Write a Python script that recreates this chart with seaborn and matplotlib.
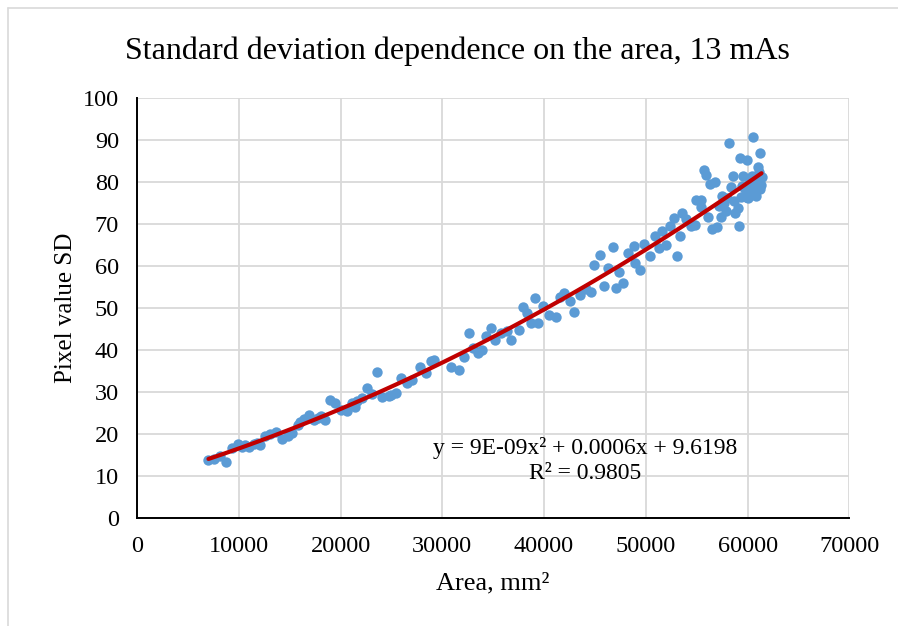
import seaborn as sns
import matplotlib.pyplot as plt
import pandas as pd
from matplotlib.lines import Line2D

# area in mm2
area = [7020, 7590, 8180, 8770, 9330, 9880, 10310, 10600, 10960, 11460, 11800, 12120,
        12610, 13100, 13690, 14250, 14810, 15240, 15790, 16000, 16380, 16870, 17370,
        17800, 18030, 18520, 19010, 19500, 20000, 20590, 21150, 21400, 21640, 22130,
        22630, 23120, 23540, 24100, 24750, 25000, 25410, 25910, 26500, 27060, 27810,
        28370, 28860,
        29190, 30830, 31650, 32140, 32630, 32970, 33460, 33950, 34280, 34770, 35170,
        35760, 36350, 36740, 37560, 37890, 38320, 38710, 39110, 39430, 39860, 40510,
        41170, 41600, 41990, 42580, 42980, 43570, 44130, 44620, 44950, 45510, 45870,
        46270, 46760, 47080, 47410, 47740, 48240, 48830, 48890, 49380, 49810, 50460,
        50860, 51250,
        51580, 52010, 52330, 52770, 53090, 53320, 53560, 53980, 54400, 54800, 54960,
        55390, 55460, 55720, 55950, 56120, 56270, 56510, 56830, 57030, 57160, 57430,
        57500, 57690, 57920, 58000, 58150, 58340, 58580, 58700, 58810, 59070, 59130,
        59230, 59400, 59500, 59560, 59790, 59800, 59990, 60000, 60120, 60200, 60310,
        60400, 60500, 60550, 60650, 60700, 60780, 60870, 60900, 61000, 61040, 61100,
        61200, 61200, 61300, 61370]

sd = [13.9, 14.1, 14.9, 13.5, 16.7, 17.7, 17.1, 17.4, 17.0, 17.7, 17.9, 17.5,
      19.5, 20.1, 20.5, 18.9, 19.5, 20.3, 22.3, 22.9, 23.7, 24.5, 23.5,
      24.0, 24.3, 23.3, 28.2, 27.4, 25.8, 25.6, 27.5, 26.5, 28.0, 28.6,
      31.0, 29.6, 34.9, 29.0, 29.2, 29.4, 29.8, 33.5, 32.1, 32.9, 36.1,
      34.5, 37.5,
      37.7, 36.1, 35.3, 38.5, 44.2, 40.5, 39.3, 40.1, 43.4, 45.3, 42.5,
      44.2, 44.6, 42.5, 44.8, 50.2, 48.8, 46.4, 52.5, 46.5, 50.5, 48.4,
      48.0, 52.8, 53.7, 51.7, 49.2, 53.2, 54.5, 54.0, 60.3, 62.7, 55.2,
      59.7, 64.5, 54.8, 58.7, 56.0, 63.2, 64.8, 60.7, 59.2, 65.3, 62.4,
      67.1, 64.3,
      68.3, 65.1, 69.6, 71.5, 62.4, 67.1, 72.8, 71.2, 69.5, 69.9, 75.9,
      75.8, 74.0, 83.0, 81.7, 71.8, 79.6, 68.8, 80.1, 69.3, 74.3, 71.8,
      76.8, 75.0, 73.2, 76.2, 89.4, 78.9, 81.4, 75.5, 72.7, 73.8, 69.6,
      85.7, 76.6, 79.0, 81.4, 78.3, 76.5, 85.4, 76.2, 79.8, 78.0, 77.0,
      81.5, 80.0, 90.7, 78.9, 77.8, 80.5, 76.7, 79.0, 80.8, 83.6, 82.5,
      86.9, 78.5, 79.4, 81.2]

eq_text = "y = 9E-09x² + 0.0006x + 9.6198\nR² = 0.9805"

df = pd.DataFrame({"area": area, "sd": sd})

sns.set_theme(style="whitegrid")
plt.rcParams['font.family'] = ['Liberation Serif', 'DejaVu Serif']

fig = plt.figure(figsize=(8.98, 6.26), dpi=100)
ax = fig.add_axes([0.1526, 0.172, 0.7932, 0.671])

sns.regplot(data=df, x="area", y="sd", order=2, ci=None, ax=ax,
            scatter_kws=dict(color="#5B9BD5", s=56, alpha=1, linewidths=0, zorder=3),
            line_kws=dict(color="#C00000", lw=3.0, zorder=4))

ax.set_xlim(0, 70000)
ax.set_ylim(0, 100)
ax.set_xticks(range(0, 70001, 10000))
ax.set_yticks(range(0, 101, 10))
ax.grid(True, color="#d9d9d9", lw=1.3)
ax.set_facecolor("white")
for s in ["top", "right"]:
    ax.spines[s].set_visible(False)
for s in ["left", "bottom"]:
    ax.spines[s].set_color("black")
    ax.spines[s].set_linewidth(1.4)
ax.tick_params(axis="both", length=0, pad=13, labelsize=17.5, colors="black")

ax.set_xlabel("Area, mm²", fontsize=19, color="black", labelpad=11)
ax.set_ylabel("Pixel value SD", fontsize=18, color="black", labelpad=4)

ax.text(44000, 13.8, eq_text, ha="center", va="center", fontsize=17,
        multialignment="center", color="black", linespacing=1.25)

fig.text(0.509, 0.918, "Standard deviation dependence on the area, 13 mAs",
         ha="center", va="center", fontsize=23, color="black")

# chart area border
fig.add_artist(Line2D([8 / 898, 8 / 898], [0, 1 - 8 / 626], transform=fig.transFigure,
                      color="#d9d9d9", lw=1.2))
fig.add_artist(Line2D([8 / 898, 1], [1 - 8 / 626, 1 - 8 / 626], transform=fig.transFigure,
                      color="#d9d9d9", lw=1.2))

fig.savefig("out.png", dpi=100, facecolor="white")
